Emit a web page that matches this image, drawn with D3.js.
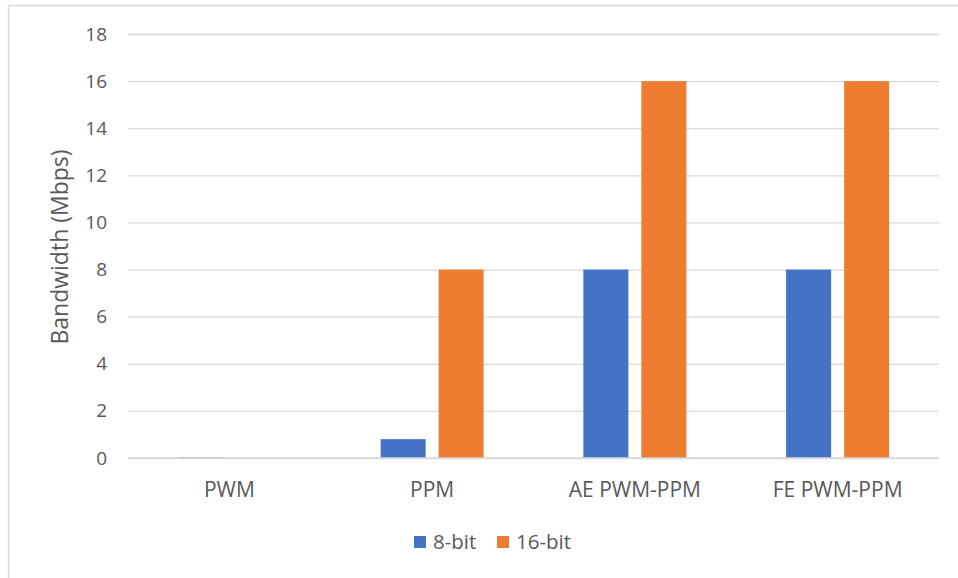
<!DOCTYPE html>
<html>
<head>
<meta charset="utf-8">
<script src="https://cdn.jsdelivr.net/npm/d3@7"></script>
<style>
  html, body { margin: 0; padding: 0; background: #fff; }
  svg { display: block; }
</style>
</head>
<body>
<svg id="chart" width="958" height="578"></svg>
<script>
// Bandwidth per modulation scheme
const categories = ["PWM", "PPM", "AE PWM-PPM", "FE PWM-PPM"];
const seriesNames = ["8-bit", "16-bit"];
const values8bit = [0.03, 0.8, 8, 8];
const values16bit = [0, 8, 16, 16];
const yTicks = [0, 2, 4, 6, 8, 10, 12, 14, 16, 18];
const yTitle = "Bandwidth (Mbps)";

const colors = { "8-bit": "#4472C4", "16-bit": "#ED7D31" };
const textColor = "#595959";
const gridColor = "#D9D9D9";
const fontFamily = "'Open Sans', sans-serif";

const svg = d3.select("#chart");
const W = 958, H = 578;
const plot = { left: 128, right: 939, top: 34, bottom: 458 };

// frame of the chart area
svg.append("path")
  .attr("d", `M8.5,${H} L8.5,5.5 L${W},5.5`)
  .attr("fill", "none")
  .attr("stroke", gridColor)
  .attr("stroke-width", 1.5);

const y = d3.scaleLinear().domain([0, 18]).range([plot.bottom, plot.top]);

const x0 = d3.scaleBand()
  .domain(categories)
  .range([plot.left, plot.right])
  .paddingInner(0.492)
  .paddingOuter(0.246);

const x1 = d3.scaleBand()
  .domain(seriesNames)
  .range([0, x0.bandwidth()])
  .paddingInner(0.224)
  .paddingOuter(0);

// horizontal gridlines and tick labels
const yAxis = d3.axisLeft(y)
  .tickValues(yTicks)
  .tickSize(-(plot.right - plot.left))
  .tickPadding(21)
  .tickFormat(d3.format("d"));

const gy = svg.append("g")
  .attr("transform", `translate(${plot.left},0)`)
  .call(yAxis);
gy.select(".domain").remove();
gy.selectAll(".tick line")
  .attr("stroke", gridColor)
  .attr("stroke-width", 1.3);
gy.selectAll(".tick text")
  .attr("fill", textColor)
  .attr("font-family", fontFamily)
  .attr("font-size", 19);

// bars
const rows = categories.map((c, i) => ({
  category: c,
  items: [
    { series: "8-bit", value: values8bit[i] },
    { series: "16-bit", value: values16bit[i] }
  ]
}));

const groups = svg.append("g")
  .selectAll("g")
  .data(rows)
  .join("g")
  .attr("transform", d => `translate(${x0(d.category)},0)`);

groups.selectAll("rect")
  .data(d => d.items)
  .join("rect")
  .attr("x", d => x1(d.series))
  .attr("width", x1.bandwidth())
  .attr("y", d => y(d.value))
  .attr("height", d => y(0) - y(d.value))
  .attr("fill", d => colors[d.series]);

// baseline (category axis)
svg.append("line")
  .attr("x1", plot.left).attr("x2", plot.right)
  .attr("y1", y(0)).attr("y2", y(0))
  .attr("stroke", gridColor)
  .attr("stroke-width", 1.5);

// category labels
const xAxis = d3.axisBottom(x0).tickSize(0).tickPadding(24);
const gx = svg.append("g")
  .attr("transform", `translate(0,${plot.bottom})`)
  .call(xAxis);
gx.select(".domain").remove();
gx.selectAll(".tick text")
  .attr("fill", textColor)
  .attr("font-family", fontFamily)
  .attr("font-size", 21);

// y-axis title
svg.append("text")
  .attr("transform", `translate(68,${(plot.top + plot.bottom) / 2 + 1}) rotate(-90)`)
  .attr("text-anchor", "middle")
  .attr("fill", textColor)
  .attr("font-family", fontFamily)
  .attr("font-size", 23)
  .text(yTitle);

// legend
const legend = svg.append("g").attr("transform", "translate(414,536)");
const legendOffsets = [0, 83];
seriesNames.forEach((s, i) => {
  const g = legend.append("g").attr("transform", `translate(${legendOffsets[i]},0)`);
  g.append("rect")
    .attr("width", 12).attr("height", 12)
    .attr("fill", colors[s]);
  g.append("text")
    .attr("x", 19).attr("y", 6)
    .attr("dy", "0.35em")
    .attr("fill", textColor)
    .attr("font-family", fontFamily)
    .attr("font-size", 20.5)
    .text(s);
});
</script>
</body>
</html>
